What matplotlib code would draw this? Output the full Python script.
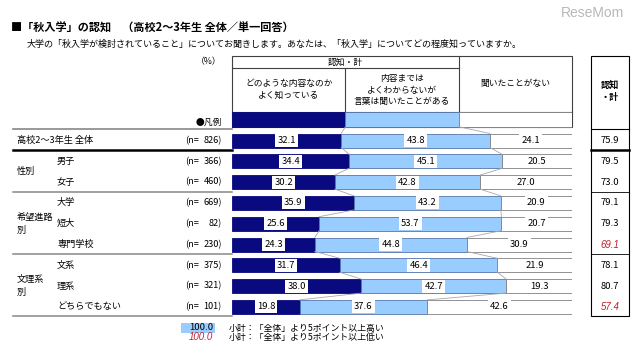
import matplotlib
matplotlib.use("Agg")
import matplotlib.pyplot as plt
from matplotlib.patches import Rectangle

plt.rcParams['font.family'] = ['Noto Sans CJK JP', 'DejaVu Sans']

# data
row_labels = ['高校2～3年生 全体', '男子', '女子', '大学', '短大', '専門学校', '文系', '理系', 'どちらでもない']
group_labels = ['性別', '希望進路\n別', '文理系\n別']
n_values = [826, 366, 460, 669, 82, 230, 375, 321, 101]
know_well = [32.1, 34.4, 30.2, 35.9, 25.6, 24.3, 31.7, 38.0, 19.8]
heard_only = [43.8, 45.1, 42.8, 43.2, 53.7, 44.8, 46.4, 42.7, 37.6]
never_heard = [24.1, 20.5, 27.0, 20.9, 20.7, 30.9, 21.9, 19.3, 42.6]
aware_total = [75.9, 79.5, 73.0, 79.1, 79.3, 69.1, 78.1, 80.7, 57.4]
series_names = ['どのような内容なのか\nよく知っている',
                '内容までは\nよくわからないが\n言葉は聞いたことがある',
                '聞いたことがない']

NAVY = '#0a0a80'
LBLUE = '#99ccff'
RED = '#c0202e'
ITALIC_FONT = ['Liberation Sans', 'DejaVu Sans']

fig = plt.figure(figsize=(6.4, 3.58), dpi=100)
# overlay axes in pixel units
ax = fig.add_axes([0, 0, 1, 1])
ax.set_xlim(0, 640)
ax.set_ylim(358, 0)
ax.axis('off')

# bar axes, 0-100% across the bar area
x0, x1 = 232.3, 571.7
bx = fig.add_axes([x0 / 640, 0, (x1 - x0) / 640, 1])
bx.set_xlim(0, 100)
bx.set_ylim(358, 0)
bx.axis('off')
bx.patch.set_alpha(0)

row_y = [140.5 + 20.8 * i for i in range(len(row_labels))]
bar_h = 14
leg_y, leg_h = 119.2, 15

# titles
ax.text(11, 28, '■「秋入学」の認知　（高校2～3年生 全体／単一回答）', fontsize=8.0,
        fontweight='bold', va='center', ha='left')
ax.text(27, 44, '大学の「秋入学が検討されていること」についてお聞きします。あなたは、'
        '「秋入学」についてどの程度知っていますか。', fontsize=6.5, va='center', ha='left')
ax.text(592, 13, 'ReseMom', fontsize=10, color='#b8b8b8', va='center', ha='center',
        family=['Liberation Sans', 'DejaVu Sans'])

# header box
hdr_top, hdr_mid, hdr_bot = 55.7, 68.3, 111.7
lc = '#404040'
ax.add_patch(Rectangle((x0, hdr_top), x1 - x0, leg_y + leg_h / 2 - hdr_top,
                       fill=False, ec=lc, lw=0.8))
b1 = x0 + (x1 - x0) / 3
b2 = x0 + 2 * (x1 - x0) / 3
ax.plot([x0, b2], [hdr_mid, hdr_mid], color=lc, lw=0.8)
ax.plot([b1, b1], [hdr_mid, hdr_bot], color=lc, lw=0.8)
ax.plot([b2, b2], [hdr_top, leg_y + leg_h / 2], color=lc, lw=0.8)
ax.plot([x0, x1], [hdr_bot, hdr_bot], color=lc, lw=0.8)
ax.text((x0 + b2) / 2, 62, '認知・計', fontsize=6.3, ha='center', va='center')
ax.text((x0 + b1) / 2, 89, series_names[0], fontsize=6.3, ha='center', va='center',
        linespacing=1.4)
ax.text((b1 + b2) / 2, 90, series_names[1], fontsize=6.3, ha='center', va='center',
        linespacing=1.3)
ax.text((b2 + x1) / 2, 83, series_names[2], fontsize=6.3, ha='center', va='center')
ax.text(222, 62, '（%）', fontsize=6.3, ha='right', va='center')
ax.text(222, 122, '●凡例', fontsize=6.3, ha='right', va='center')

# legend row in bar axes
third = 100 / 3
bx.barh(leg_y, third, height=leg_h, left=0, color=NAVY, edgecolor=NAVY, lw=0.6)
bx.barh(leg_y, third, height=leg_h, left=third, color=LBLUE, edgecolor='#5577aa', lw=0.6)
bx.barh(leg_y, third, height=leg_h, left=2 * third, color='white', edgecolor='#808080', lw=0.6)

# stacked bars
bx.barh(row_y, know_well, height=bar_h, color=NAVY, edgecolor=NAVY, lw=0.6)
bx.barh(row_y, heard_only, height=bar_h, left=know_well, color=LBLUE,
        edgecolor='#5577aa', lw=0.6)
left3 = [a + b for a, b in zip(know_well, heard_only)]
bx.barh(row_y, never_heard, height=bar_h, left=left3, color='white',
        edgecolor='#808080', lw=0.6)

lbl_box = dict(boxstyle='square,pad=0.22', fc='white', ec='none')
for i, y in enumerate(row_y):
    segs = [(0, know_well[i]), (know_well[i], heard_only[i]), (left3[i], never_heard[i])]
    for left, w in segs:
        bx.text(left + w / 2, y, f'{w:.1f}', fontsize=6.8, ha='center', va='center',
                bbox=lbl_box, zorder=5)

# series lines between consecutive bars
prev_b = [third, 2 * third]
prev_y = leg_y + leg_h / 2
for i, y in enumerate(row_y):
    cur_b = [know_well[i], left3[i]]
    for pb, cb in zip(prev_b, cur_b):
        bx.plot([pb, cb], [prev_y, y - bar_h / 2], color='#a8a8a8', lw=0.6, zorder=1)
    prev_b = cur_b
    prev_y = y + bar_h / 2

# left table
tx0 = 13
ax.plot([tx0, x0], [129, 129], color='#888888', lw=1.2)
ax.plot([tx0, x0], [149.5, 149.5], color='black', lw=1.8)
for yy in [191.5, 254, 316]:
    ax.plot([tx0, x0], [yy, yy], color='#888888', lw=1.1)

ax.text(17, row_y[0], row_labels[0], fontsize=6.6, va='center', ha='left')
for i in range(1, len(row_labels)):
    ax.text(57, row_y[i], row_labels[i], fontsize=6.6, va='center', ha='left')
group_rows = [(1, 2), (3, 5), (6, 8)]
for g, (a, b) in zip(group_labels, group_rows):
    ax.text(17, (row_y[a] + row_y[b]) / 2, g, fontsize=6.6, va='center', ha='left',
            linespacing=1.5)
for i, y in enumerate(row_y):
    ax.text(185, y, '(n=', fontsize=6.6, va='center', ha='left')
    ax.text(222, y, f'{n_values[i]})', fontsize=6.6, va='center', ha='right')

# right column (aware total)
rx0, rx1 = 591.0, 629.3
ax.add_patch(Rectangle((rx0, hdr_top), rx1 - rx0, 316 - hdr_top, fill=False,
                       ec='black', lw=0.8))
ax.plot([rx0, rx1], [129, 129], color='black', lw=0.8)
ax.plot([rx0, rx1], [149.5, 149.5], color='black', lw=1.8)
for yy in [191.5, 254]:
    ax.plot([rx0, rx1], [yy, yy], color='black', lw=0.6)
ax.text((rx0 + rx1) / 2, 91, '認知\n・計', fontsize=6.6, ha='center', va='center',
        linespacing=1.5, fontweight='bold')
total = aware_total[0]
for i, y in enumerate(row_y):
    v = aware_total[i]
    low = i > 0 and v <= total - 5
    high = i > 0 and v >= total + 5
    if low:
        ax.text((rx0 + rx1) / 2, y, f'{v:.1f}', fontsize=7, ha='center', va='center',
                color=RED, style='italic', family=ITALIC_FONT)
    else:
        ax.text((rx0 + rx1) / 2, y, f'{v:.1f}', fontsize=6.8, ha='center', va='center',
                bbox=dict(boxstyle='square,pad=0.2', fc=LBLUE, ec='none') if high else None)

# note legend at bottom
ax.add_patch(Rectangle((181, 323), 34, 10, fc=LBLUE, ec='none'))
ax.text(213, 328, '100.0', fontsize=6.8, ha='right', va='center')
ax.text(213, 337.5, '100.0', fontsize=7, ha='right', va='center', color=RED,
        style='italic', family=ITALIC_FONT)
ax.text(229, 328, '小計：「全体」より5ポイント以上高い', fontsize=6.4, ha='left', va='center')
ax.text(229, 337.5, '小計：「全体」より5ポイント以上低い', fontsize=6.4, ha='left', va='center')

fig.savefig('out.png', dpi=100)
